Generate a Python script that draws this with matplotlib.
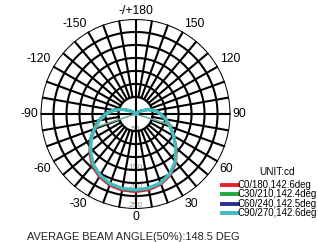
import numpy as np
import matplotlib.pyplot as plt
from matplotlib.lines import Line2D

plt.rcParams['font.family'] = ['Liberation Sans', 'DejaVu Sans']

# gamma angles (deg), 0 = straight down, positive to the right
gamma = list(range(-180, 181, 10))

c0_180 = [0, 0, 0, 1, 3, 8, 17, 34, 57, 78, 97, 117, 138, 158, 178, 191, 200, 204,
          205, 203, 197, 185, 166, 140, 117, 98, 82, 66, 52, 33, 16, 7, 3, 1, 0, 0, 0]
c30_210 = [0, 0, 0, 1, 3, 9, 18, 36, 60, 81, 99, 118, 137, 155, 174, 187, 196, 200,
           201, 199, 194, 182, 164, 139, 117, 98, 82, 67, 53, 34, 16, 7, 3, 1, 0, 0, 0]
c60_240 = [0, 0, 0, 1, 3, 8, 18, 36, 59, 80, 98, 117, 136, 155, 174, 187, 196, 200,
           202, 199, 194, 182, 164, 139, 116, 97, 81, 66, 53, 34, 16, 7, 3, 1, 0, 0, 0]
c90_270 = [0, 0, 0, 1, 3, 8, 17, 35, 58, 78, 96, 115, 135, 154, 173, 186, 195, 199,
           200, 198, 193, 181, 163, 138, 116, 97, 81, 66, 53, 34, 16, 7, 3, 1, 0, 0, 0]

# stray segments to the centre
back_gamma = [-72, -72, 72, 72]
back_val = [110, 0, 0, 100]

series = [
    ("C0/180,142.6deg", c0_180, "#e3212b"),
    ("C30/210,142.4deg", c30_210, "#20a93c"),
    ("C60/240,142.5deg", c60_240, "#2c2f8d"),
    ("C90/270,142.6deg", c90_270, "#42bdbd"),
]

angle_ticks = [0, 30, 60, 90, 120, 150, 180, -150, -120, -90, -60, -30]
angle_labels = ["0", "30", "60", "90", "120", "150", "-/+180", "-150", "-120", "-90", "-60", "-30"]
r_labels = [50, 150, 200, 250]
rmax = 250
r_inner = 45

fig = plt.figure(figsize=(3.18, 2.42), dpi=100)
ax = fig.add_axes([0.1274, 0.1364, 0.5975, 0.7851], projection='polar')
ax.set_theta_zero_location('S')
ax.set_theta_direction(1)
ax.set_ylim(0, rmax)
ax.axis('off')

# grid
t = np.linspace(0, 2 * np.pi, 361)
for rr in np.linspace(r_inner, rmax, 7):
    ax.plot(t, np.full_like(t, rr), color='black', lw=1.5, zorder=2)
for a in range(0, 360, 10):
    r0 = 0 if a % 90 == 0 else r_inner
    ax.plot([np.radians(a)] * 2, [r0, rmax], color='black', lw=1.5, zorder=2)

for v in r_labels:
    ax.text(0, v, str(v), fontsize=6, color='#999999', ha='center', va='bottom', zorder=1)

for a, lab in zip(angle_ticks, angle_labels):
    th = np.radians(a)
    s, c = np.sin(th), np.cos(th)
    ha = 'center' if abs(s) < 0.01 else ('left' if s > 0 else 'right')
    va = 'center' if abs(c) < 0.01 else ('top' if c > 0 else 'bottom')
    ax.text(th, 256, lab, fontsize=8.8, ha=ha, va=va, clip_on=False)

# curves
th_g = np.radians(gamma)
for name, vals, col in series:
    lw = 2.4 if col == "#42bdbd" else 1.8
    ax.plot(th_g, vals, color=col, lw=lw, zorder=3, clip_on=False)
ax.plot(np.radians(back_gamma), back_val, color='#b9aa5e', lw=0.8, zorder=3)
ax.plot(np.radians(back_gamma) + 0.02, back_val, color='#4fa9b3', lw=0.8, zorder=3)

# legend
fig.text(277 / 318, 1 - 172 / 242, "UNIT:cd", fontsize=7.2, ha='center', va='center')
for i, (name, vals, col) in enumerate(series):
    y = 1 - (185 + i * 9.3) / 242
    fig.add_artist(Line2D([222 / 318, 238 / 318], [y, y], color=col, lw=2.8,
                          transform=fig.transFigure))
    fig.text(238 / 318, y, name, fontsize=6.9, ha='left', va='center')

fig.text(27 / 318, 1 - 237 / 242, "AVERAGE BEAM ANGLE(50%):148.5 DEG",
         fontsize=7.9, ha='left', va='center', color='#222222')

fig.savefig('out.png', dpi=100)
